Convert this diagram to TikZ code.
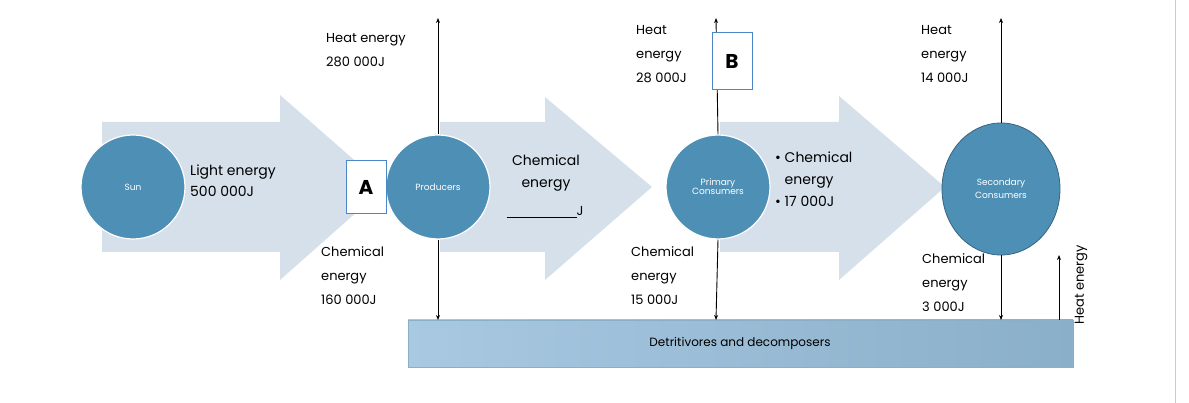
\documentclass[tikz,border=0pt]{standalone}
\usepackage{fontspec}
\setmainfont{Poppins}
\usetikzlibrary{arrows.meta,shapes.geometric}
\definecolor{arr}{HTML}{D5E0EA}
\definecolor{circ}{HTML}{4E8FB5}
\definecolor{boxb}{HTML}{4A86C8}
\definecolor{detl}{HTML}{A9C8E2}
\definecolor{detr}{HTML}{8AAFC8}
\begin{document}
\begin{tikzpicture}[x=1pt,y=-1pt,
  big/.style={fill=arr,draw=none},
  org/.style={circle,fill=circ,draw=white,line width=1.2pt,minimum size=104pt,text=white,font=\fontsize{9}{11}\selectfont,align=center,inner sep=0},
  lab/.style={anchor=north west,align=left,font=\fontsize{13}{24}\selectfont,inner sep=0},
  flow/.style={-{Stealth[length=5pt,width=4pt]},line width=0.9pt},
  qbox/.style={draw=boxb,fill=white,line width=1pt,font=\fontsize{20}{22}\selectfont\bfseries,inner sep=0}]
\useasboundingbox (0,0) rectangle (1189,403);
\draw[gray!40,line width=1pt] (1175,0) -- (1175,403);
\fill[big] (102,122) -- (280,122) -- (280,95) -- (385,187) -- (280,280) -- (280,252) -- (102,252) -- cycle;
\fill[big] (440,122) -- (545,122) -- (545,97) -- (652,187) -- (545,280) -- (545,252) -- (440,252) -- cycle;
\fill[big] (720,122) -- (839,122) -- (839,96) -- (945,187) -- (839,280) -- (839,252) -- (720,252) -- cycle;
\shade[left color=detl, right color=detr, draw=detr, line width=0.8pt]
  (408,320) rectangle (1073,367);
\node (det) at (740,343.5) {\fontsize{12}{14}\selectfont Detritivores and decomposers};
\coordinate (dtop1) at (438,320);
\coordinate (dtop2) at (716,320);
\coordinate (dtop3) at (1001,320);
\coordinate (dtop4) at (1059,320);
\node[org] (sun) at (133,187) {Sun};
\node[org] (prod) at (438,187) {Producers};
\node[org] (prim) at (718,187) {Primary\\[-2pt]Consumers};
\node[ellipse,fill=circ,draw=circ!70!black,line width=0.8pt,minimum width=118pt,minimum height=132pt,text=white,font=\fontsize{9}{11}\selectfont,align=center,inner sep=0] (sec) at (1001,189) {Secondary\\[2pt]Consumers};
\coordinate (h1) at (438,18);
\coordinate (h2) at (716,18);
\coordinate (h3) at (1001,18);
\coordinate (h4) at (1059,255);
\draw[flow] (prod.north) -- (h1);
\draw[flow] (prim.north) -- (h2);
\draw[flow] (sec.north) -- (h3);
\draw[flow] (prod.south) -- (dtop1);
\draw[flow] (prim.south) -- (dtop2);
\draw[flow] (sec.south) -- (dtop3);
\draw[flow] (dtop4) -- (h4);
\node[qbox,minimum width=40pt,minimum height=53pt] (A) at (366,187) {A};
\node[qbox,minimum width=40pt,minimum height=57pt] (B) at (732,61.5) {B};
\node[rotate=90,font=\fontsize{13}{15}\selectfont] (he) at (1081,285) {Heat energy};
\node[lab] (t1) at (326,33) {Heat energy\\280 000J};
\node[lab,font=\fontsize{14}{21}\selectfont] (t2) at (190,165) {Light energy\\500 000J};
\node[lab] (t3) at (321,246) {Chemical\\energy\\160 000J};
\node[align=center,font=\fontsize{14}{22}\selectfont] (t4) at (546,173) {Chemical\\energy};
\node[font=\fontsize{13}{15}\selectfont] (t5) at (545,212) {\underline{\hspace{70pt}}J};
\node[lab] (t6) at (636,25) {Heat\\energy\\28 000J};
\node[lab,font=\fontsize{14}{22}\selectfont] (t7) at (775,152) {• Chemical\\\phantom{• }energy\\• 17 000J};
\node[lab] (t8) at (631,246) {Chemical\\energy\\15 000J};
\node[lab] (t9) at (921,25) {Heat\\energy\\14 000J};
\node[lab] (t10) at (922,253) {Chemical\\energy\\3 000J};
\end{tikzpicture}
\end{document}
